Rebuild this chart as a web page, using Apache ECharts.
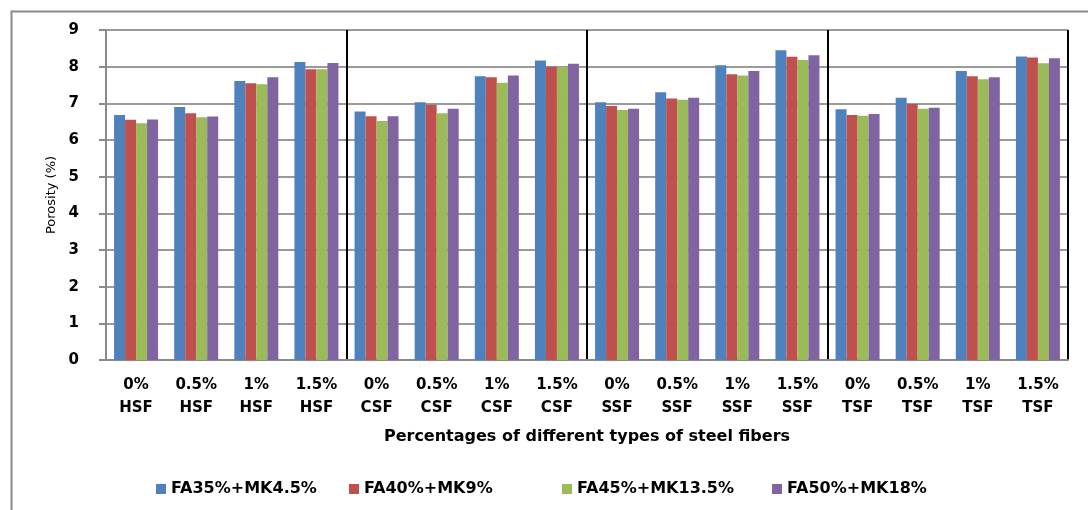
<!DOCTYPE html>
<html>
<head>
<meta charset="utf-8">
<script src="https://cdn.jsdelivr.net/npm/echarts@6/dist/echarts.min.js"></script>
<style>
html,body{margin:0;padding:0;background:#fff;}
#chart{width:1088px;height:510px;}
</style>
</head>
<body>
<div id="chart"></div>
<script>
const percentages = ["0%", "0.5%", "1%", "1.5%"];
const fiberTypes = ["HSF", "CSF", "SSF", "TSF"];
const categories = [];
fiberTypes.forEach(t => percentages.forEach(p => categories.push(p + "\n" + t)));

const seriesNames = ["FA35%+MK4.5%", "FA40%+MK9%", "FA45%+MK13.5%", "FA50%+MK18%"];
const fa35mk45 = [6.68, 6.90, 7.61, 8.13, 6.78, 7.03, 7.74, 8.17, 7.03, 7.30, 8.04, 8.45, 6.84, 7.15, 7.88, 8.28];
const fa40mk9  = [6.55, 6.73, 7.55, 7.93, 6.65, 6.96, 7.71, 8.00, 6.93, 7.13, 7.79, 8.27, 6.68, 6.98, 7.74, 8.25];
const fa45mk135 = [6.46, 6.62, 7.52, 7.93, 6.52, 6.73, 7.56, 7.99, 6.82, 7.10, 7.76, 8.18, 6.66, 6.85, 7.66, 8.09];
const fa50mk18 = [6.56, 6.64, 7.71, 8.10, 6.65, 6.85, 7.76, 8.08, 6.85, 7.15, 7.88, 8.31, 6.71, 6.88, 7.71, 8.23];
const seriesValues = [fa35mk45, fa40mk9, fa45mk135, fa50mk18];
const colors = ["#4F81BD", "#C0504D", "#9BBB59", "#8064A2"];
const yTicks = [0, 1, 2, 3, 4, 5, 6, 7, 8, 9];

const FONT = "DejaVu Sans";
const chart = echarts.init(document.getElementById('chart'), null, {renderer: 'canvas'});

const legendLefts = [151, 344, 557, 767];
const legends = seriesNames.map((n, i) => ({
  data: [n],
  left: legendLefts[i],
  top: 476,
  itemWidth: 10,
  itemHeight: 10,
  itemGap: 6,
  icon: 'rect',
  textStyle: {fontFamily: FONT, fontWeight: 'bold', fontSize: 16, color: '#000'}
}));

const option = {
  animation: false,
  color: colors,
  graphic: [{
    type: 'rect',
    left: 9, top: 9,
    shape: {width: 1100, height: 520},
    style: {fill: 'none', stroke: '#8a8a8a', lineWidth: 2},
    z: -1
  }],
  grid: {left: 106, right: 20, top: 30, bottom: 150, containLabel: false},
  legend: legends,
  xAxis: [{
    type: 'category',
    data: categories,
    axisLine: {show: true, lineStyle: {color: '#8a8a8a', width: 2}},
    axisTick: {show: false},
    axisLabel: {
      interval: 0, margin: 14, lineHeight: 23,
      fontFamily: FONT, fontWeight: 'bold', fontSize: 15, color: '#000'
    },
    name: 'Percentages of different types of steel fibers',
    nameLocation: 'middle',
    nameGap: 69,
    nameTextStyle: {fontFamily: FONT, fontWeight: 'bold', fontSize: 16, color: '#000'}
  }, {
    type: 'value',
    position: 'top',
    min: 0, max: 16, interval: 4,
    axisLine: {show: false},
    axisTick: {show: false},
    axisLabel: {show: false},
    splitLine: {show: true, showMinLine: false, lineStyle: {color: '#000', width: 2}}
  }],
  yAxis: {
    type: 'value',
    min: yTicks[0], max: yTicks[yTicks.length - 1], interval: 1,
    axisLine: {show: true, lineStyle: {color: '#8a8a8a', width: 2}},
    axisTick: {show: true, inside: false, length: 7, lineStyle: {color: '#8a8a8a', width: 2}},
    splitLine: {show: true, lineStyle: {color: '#9a9a9a', width: 2}},
    axisLabel: {margin: 27, fontFamily: FONT, fontWeight: 'bold', fontSize: 15, color: '#000'},
    name: 'Porosity (%)',
    nameLocation: 'middle',
    nameGap: 42,
    nameTextStyle: {fontFamily: FONT, fontSize: 13, color: '#000'}
  },
  series: seriesNames.map((n, i) => ({
    name: n,
    type: 'bar',
    xAxisIndex: 0,
    data: seriesValues[i],
    barWidth: 11,
    barGap: '0%',
    itemStyle: {color: colors[i]}
  }))
};
chart.setOption(option);
</script>
</body>
</html>
